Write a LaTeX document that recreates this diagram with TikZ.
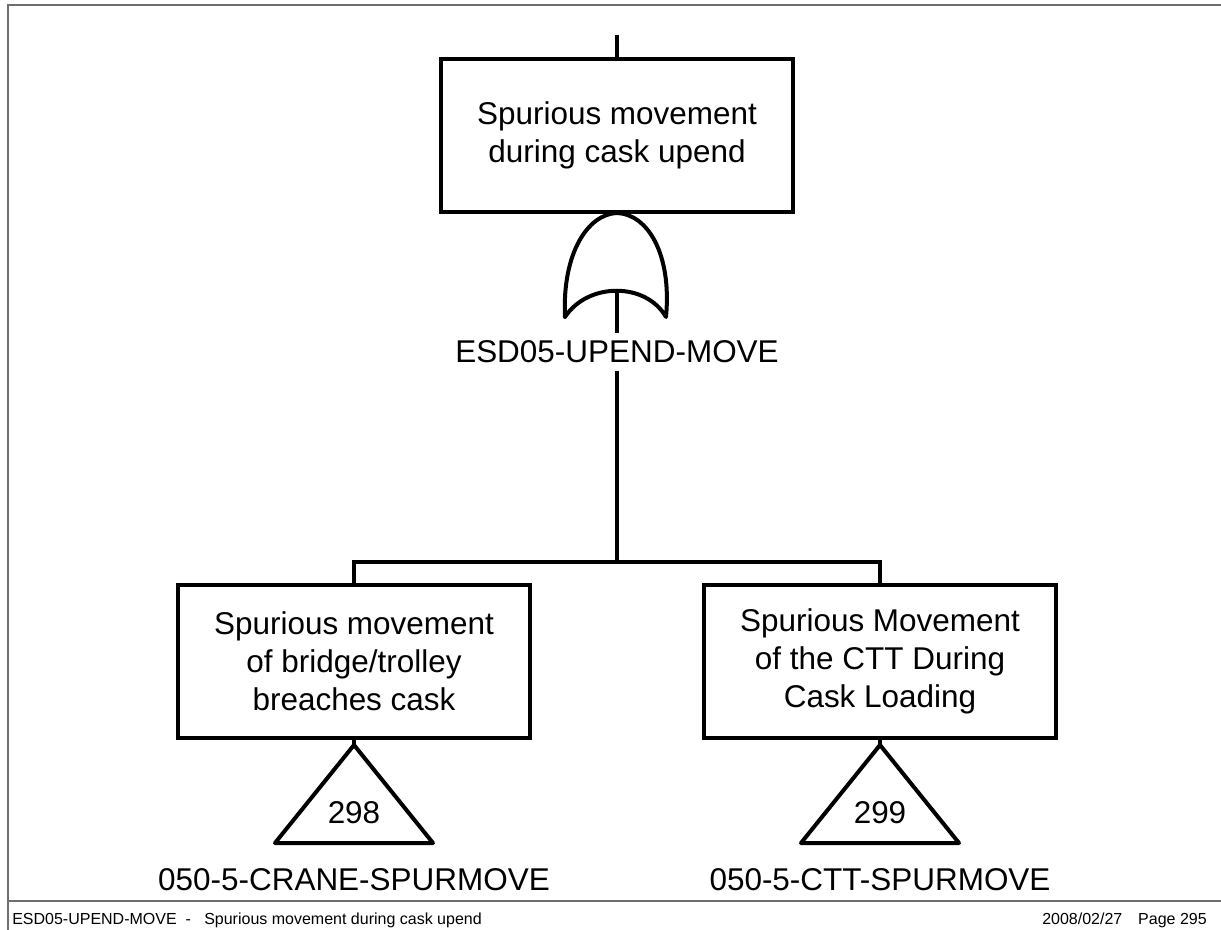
\documentclass[tikz,border=0pt]{standalone}
\usepackage{fontspec}
\setmainfont{Liberation Sans}
\definecolor{framegray}{RGB}{110,110,110}
\begin{document}
\begin{tikzpicture}[x=0.75pt,y=-0.75pt,
  bigfont/.style={font=\fontsize{23.6}{28.6}\selectfont},
  ev/.style={draw, line width=3pt, minimum width=264pt, minimum height=114.75pt, inner sep=0pt, align=center, bigfont},
  lbl/.style={anchor=base, inner sep=0pt, bigfont},
  wire/.style={line width=3pt},
  frameline/.style={draw=framegray, line width=1.5pt},
  foot/.style={inner sep=0pt, font=\fontsize{12}{14}\selectfont}]
\useasboundingbox (0,0) rectangle (1221,930);
\fill[white] (0,0) rectangle (1221,930);
% frame
\draw[frameline] (1221,5) -- (8,5) -- (8,930);
\draw[frameline] (8,901) -- (1221,901);
% top event
\node[ev] (top) at (617,135.5) {Spurious movement\\during cask upend};
\coordinate (topin) at (617,35);
\draw[wire] (topin) -- (top.north);
% OR gate
\coordinate (gL) at (565,317);
\coordinate (gR) at (666,317);
\coordinate (gT) at (617,213);
\coordinate (gI) at (617,291);
\coordinate (gO) at (617,333);
\draw[wire, line join=round, line cap=round]
  (gL) .. controls (562,253) and (588,214) .. (gT)
       .. controls (647,214) and (672,253) .. (gR)
       .. controls (646,282) and (588,282) .. (gL);
\draw[wire] (gI) -- (gO);
\node[lbl] (glbl) at (617,363) {ESD05-UPEND-MOVE};
\coordinate (gB) at (617,371);
\coordinate (bus) at (617,562);
\coordinate (busL) at (354,562);
\coordinate (busR) at (880,562);
\draw[wire] (gB) -- (bus);
% children
\node[ev] (left) at (354,661.5) {Spurious movement\\of bridge/trolley\\breaches cask};
\node[ev] (right) at (880,661.5) {Spurious Movement\\of the CTT During\\Cask Loading};
\draw[wire] (left.north) -- (busL) -- (busR) -- (right.north);
% transfer triangles
\coordinate (t1) at (354,745);
\coordinate (t1L) at (275,843);
\coordinate (t1R) at (433,843);
\coordinate (t2) at (880,745);
\coordinate (t2L) at (801,843);
\coordinate (t2R) at (959,843);
\draw[wire] (left.south) -- (t1);
\draw[wire] (right.south) -- (t2);
\draw[wire, line join=round] (t1) -- (t1L) -- (t1R) -- cycle;
\draw[wire, line join=round] (t2) -- (t2L) -- (t2R) -- cycle;
\node[lbl] (n1) at (354,823) {298};
\node[lbl] (n2) at (880,823) {299};
\node[lbl] (l1) at (354,890) {050-5-CRANE-SPURMOVE};
\node[lbl] (l2) at (880,890) {050-5-CTT-SPURMOVE};
% footer
\node[foot, anchor=base west] (footl) at (12,924) {ESD05-UPEND-MOVE\ \ -\ \ \ Spurious movement during cask upend};
\node[foot, anchor=base west] (date) at (1042,924) {2008/02/27};
\node[foot, anchor=base east] (page) at (1207,924) {Page 295};
\end{tikzpicture}
\end{document}
